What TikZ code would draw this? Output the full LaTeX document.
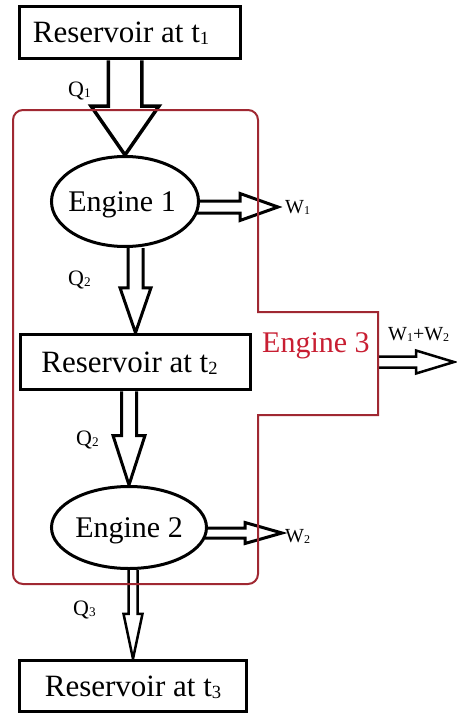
\documentclass[tikz,border=0pt]{standalone}
\usepackage{fontspec}
\setmainfont{Liberation Serif}
\usepackage{graphicx}
\usetikzlibrary{calc,shapes.geometric}
\pgfdeclarelayer{bg}
\pgfsetlayers{bg,main}
\definecolor{e3line}{RGB}{160,40,50}
\definecolor{e3text}{RGB}{200,30,50}
\newcommand\ixs[1]{\raisebox{-0.06em}{\scalebox{0.6}{#1}}}
% downward block arrow: source node, target anchor, shaft half, head half, head length, line width
\newcommand\blkdown[6]{\draw[blk,line width=#6pt] let \p1=(#1), \p2=(#2) in
  (\x2-#3pt,\y1) -- (\x2-#3pt,\y2+#5pt) -- (\x2-#4pt,\y2+#5pt) -- (\x2,\y2)
  -- (\x2+#4pt,\y2+#5pt) -- (\x2+#3pt,\y2+#5pt) -- (\x2+#3pt,\y1);}
% rightward block arrow: source, tip coordinate, shaft half, head half, head length, line width
\newcommand\blkright[6]{\draw[blk,line width=#6pt] let \p1=(#1), \p2=(#2) in
  (\x1-3pt,\y2+#3pt) -- (\x2-#5pt,\y2+#3pt) -- (\x2-#5pt,\y2+#4pt) -- (\x2,\y2)
  -- (\x2-#5pt,\y2-#4pt) -- (\x2-#5pt,\y2-#3pt) -- (\x1-3pt,\y2-#3pt);}
\begin{document}
\begin{tikzpicture}[x=1pt,y=-1pt,
  res/.style={draw, line width=3.5pt, fill=white, inner sep=0pt, text depth=0pt,
    font=\fontsize{31}{31}\selectfont},
  eng/.style={ellipse, draw, line width=3pt, fill=white, inner sep=0pt, text depth=0pt,
    font=\fontsize{30}{30}\selectfont},
  qlab/.style={anchor=base west, inner sep=0pt, font=\fontsize{22}{22}\selectfont},
  wlab/.style={anchor=base west, inner sep=0pt, font=\fontsize{20}{20}\selectfont},
  blk/.style={draw=black, fill=white, line join=miter},
  e3box/.style={draw=e3line, line width=2pt}]
\useasboundingbox (0,0) rectangle (456,715);

% nodes
\node[res, minimum width=221pt, minimum height=52pt] (r1) at (130,32.5) {\hspace*{-18pt}Reservoir at t\ixs{1}};
\node[eng, minimum width=147pt, minimum height=90pt] (e1) at (125,201.5) {\hspace*{-6pt}Engine 1};
\node[res, minimum width=230pt, minimum height=55pt] (r2) at (135.5,362) {\hspace*{-12pt}Reservoir at t\ixs{2}};
\node[eng, minimum width=155pt, minimum height=82pt] (e2) at (129,527.5) {Engine 2};
\node[res, minimum width=227pt, minimum height=51pt] (r3) at (133,686) {Reservoir at t\ixs{3}};

% labels
\node[qlab] (q1) at (68,96) {Q\ixs{1}};
\node[qlab] (q2a) at (68,285) {Q\ixs{2}};
\node[qlab] (q2b) at (76,445) {Q\ixs{2}};
\node[qlab] (q3) at (73,615) {Q\ixs{3}};
\node[wlab] (w1) at (285,213) {W\ixs{1}};
\node[wlab] (w2) at (285,542) {W\ixs{2}};
\node[wlab] (w12) at (388,340) {W\ixs{1}+W\ixs{2}};
\node[anchor=base west, inner sep=0pt, text=e3text, font=\fontsize{30}{30}\selectfont] (e3) at (262,352) {Engine 3};

% engine 3 outline
\draw[e3box] (13,350) {[rounded corners=10pt] -- (13,110) -- (258,110) -- (258,200)}
  -- (258,312) -- (378,312) -- (378,415) -- (258,415) -- (258,500)
  {[rounded corners=10pt] -- (258,584) -- (13,584) -- (13,350)} -- cycle;

% free ends
\coordinate (w1tip) at (278,207);
\coordinate (w2tip) at (282,533);
\coordinate (e3out) at (381,362);
\coordinate (w12tip) at (454,362);

% block arrows
\begin{pgfonlayer}{bg}
\blkdown{r1.south}{e1.north}{16.75}{34}{49}{3.5}
\blkdown{e1.south}{r2.north}{7.5}{15.5}{45}{3}
\blkdown{r2.south}{e2.north}{7.5}{16}{49.5}{3}
\blkdown{e2.south}{r3.north}{4.5}{9.5}{45}{2.5}
\blkright{e1.east}{w1tip}{6}{13.5}{38}{3}
\blkright{e2.east}{w2tip}{5}{10.5}{37}{3}
\blkright{e3out}{w12tip}{5.5}{11.5}{38}{2.5}
\end{pgfonlayer}
\end{tikzpicture}
\end{document}
